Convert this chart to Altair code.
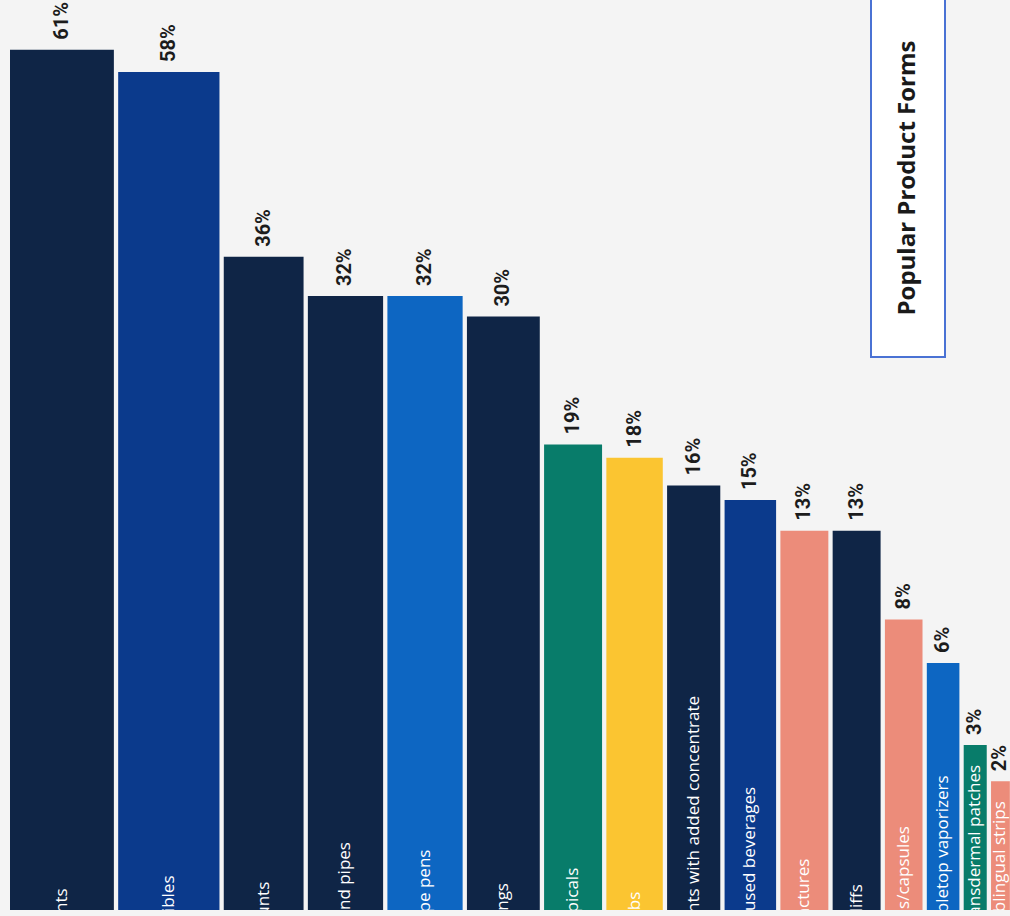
import altair as alt
import pandas as pd

categories = [
    "Joints", "Edibles", "Blunts", "Hand pipes", "Vape pens", "Bongs",
    "Topicals", "Dabs", "Joints with added concentrate", "Infused beverages",
    "Tinctures", "Spliffs", "Pills/capsules", "Tabletop vaporizers",
    "Transdermal patches", "Sublingual strips",
]
values = [61, 58, 36, 32, 32, 30, 19, 18, 16, 15, 13, 13, 8, 6, 3, 2]
bar_colors = [
    "#0f2546", "#0b3a8c", "#0f2546", "#0f2546", "#0d66c2", "#0f2546",
    "#087c6a", "#fbc531", "#0f2546", "#0b3a8c", "#ec8c7a", "#0f2546",
    "#ec8c7a", "#0d66c2", "#087c6a", "#ec8c7a",
]
title_text = "Popular Product Forms"

df = pd.DataFrame({"category": categories, "value": values,
                   "order": list(range(len(categories)))})

PX_PER_UNIT = 13.3
GAP = 4.3 / PX_PER_UNIT

xs = alt.Scale(domain=[0, 1000 / PX_PER_UNIT], nice=False, zero=False)
ys = alt.Scale(type="sqrt", domain=[0, 65], range=[922, 0], nice=False)

base = (
    alt.Chart(df)
    .transform_calculate(w="sqrt(datum.value)", label="datum.value + '%'", zero="0")
    .transform_window(cum="sum(w)", idx="row_number()",
                      sort=[alt.SortField("order")], frame=[None, 0])
    .transform_calculate(x_end=f"datum.cum + (datum.idx - 1) * {GAP}")
    .transform_calculate(x_start="datum.x_end - datum.w",
                         x_mid="datum.x_end - datum.w / 2")
)

color = alt.Color("category:N", scale=alt.Scale(domain=categories, range=bar_colors),
                  legend=None)

bars = base.mark_rect(clip=True).encode(
    x=alt.X("x_start:Q", scale=xs, axis=None),
    x2="x_end:Q",
    y=alt.Y("value:Q", scale=ys, axis=None),
    y2="zero:Q",
    color=color,
)

names = base.mark_text(
    angle=270, align="left", baseline="middle", dx=11,
    font="Open Sans", fontSize=17, color="white", clip=True,
).encode(
    x=alt.X("x_mid:Q", scale=xs, axis=None),
    y=alt.Y("zero:Q", scale=ys, axis=None),
    text="category:N",
)

pct = base.mark_text(
    angle=270, align="left", baseline="middle", dx=10,
    font="Roboto", fontSize=20, fontWeight="bold", color="#1c1c1c",
).encode(
    x=alt.X("x_mid:Q", scale=xs, axis=None),
    y=alt.Y("value:Q", scale=ys, axis=None),
    text="label:N",
)

tdf = pd.DataFrame({"t": [title_text]})
box = alt.Chart(tdf).mark_rect(fill="white", stroke="#4a72d4", strokeWidth=2).encode(
    x=alt.value(861), x2=alt.value(935), y=alt.value(-30), y2=alt.value(336)
)
title_mark = alt.Chart(tdf).mark_text(
    angle=270, align="center", baseline="middle",
    font="Open Sans", fontSize=24, fontWeight="bold", color="#1a1a1a",
).encode(x=alt.value(898), y=alt.value(157), text="t:N")

chart = (
    alt.layer(bars, names, pct, box, title_mark)
    .properties(
        width=1000, height=889,
        padding={"left": 10, "top": 21, "right": 0, "bottom": 6},
        autosize=alt.AutoSizeParams(type="none"),
        background="#f4f4f4",
    )
    .configure_view(stroke=None)
)

chart.save("out.html", embed_options={"renderer": "svg", "actions": False})
